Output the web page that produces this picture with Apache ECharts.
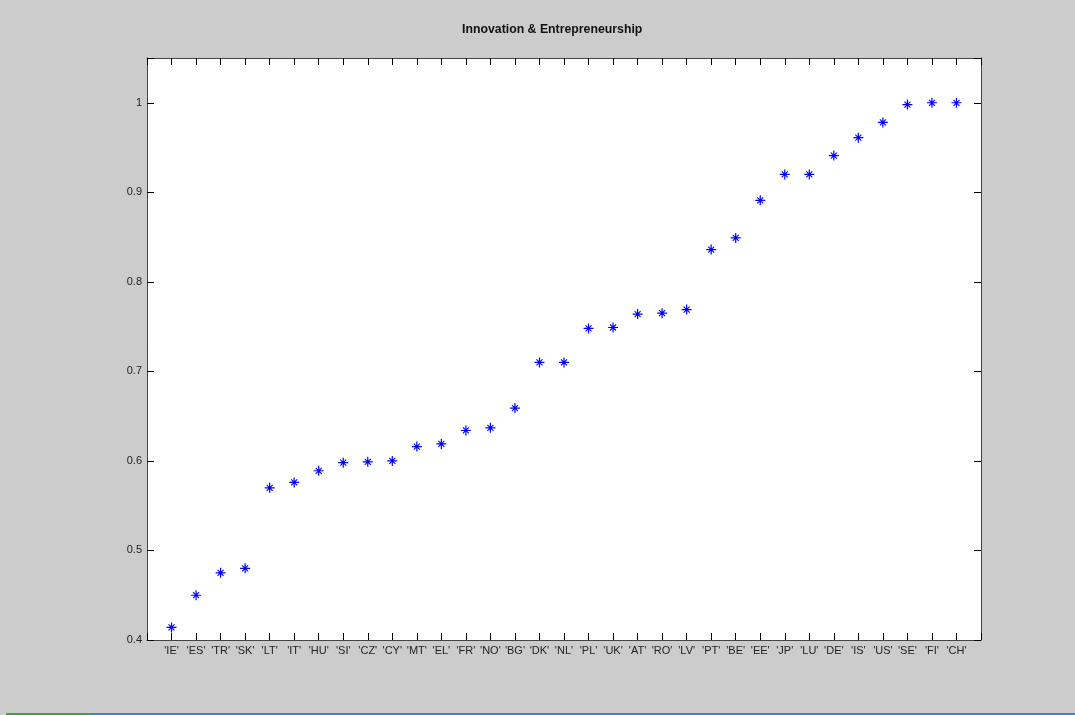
<!DOCTYPE html>
<html>
<head>
<meta charset="utf-8">
<script src="https://cdn.jsdelivr.net/npm/echarts@6/dist/echarts.min.js"></script>
<style>
  html, body { margin: 0; padding: 0; background: #cccccc; }
  #chart { width: 1075px; height: 715px; }
</style>
</head>
<body>
<div id="chart"></div>
<script>
// Country codes, ordered by score
const countries = ['IE','ES','TR','SK','LT','IT','HU','SI','CZ','CY','MT','EL','FR','NO','BG','DK','NL',
                   'PL','UK','AT','RO','LV','PT','BE','EE','JP','LU','DE','IS','US','SE','FI','CH'];
// Innovation & Entrepreneurship score per country
const scores = [0.414, 0.450, 0.475, 0.480, 0.570, 0.576, 0.589, 0.598, 0.599, 0.600, 0.616, 0.619, 0.634,
                0.637, 0.659, 0.710, 0.710, 0.748, 0.749, 0.764, 0.765, 0.769, 0.836, 0.849, 0.891,
                0.920, 0.920, 0.941, 0.961, 0.978, 0.998, 1.000, 1.000];
const yTicks = [0.4, 0.5, 0.6, 0.7, 0.8, 0.9, 1];

const points = scores.map((v, i) => [i + 1, v]);

// Asterisk marker: a plus with two shorter diagonals
const asterisk = 'path://M4.4,0 H5.6 V10 H4.4 Z M0,4.4 H10 V5.6 H0 Z ' +
  'M2.39,1.61 L8.39,7.61 L7.61,8.39 L1.61,2.39 Z ' +
  'M8.39,2.39 L2.39,8.39 L1.61,7.61 L7.61,1.61 Z';

const font = '"Liberation Sans", Arial, Helvetica, sans-serif';
const frame = { show: true, onZero: false, lineStyle: { color: '#444', width: 1 } };
const tick = { show: true, inside: true, length: 7, lineStyle: { color: '#000', width: 1 } };

const chart = echarts.init(document.getElementById('chart'), null, { renderer: 'canvas' });
chart.setOption({
  backgroundColor: '#cccccc',
  animation: false,
  title: {
    text: 'Innovation & Entrepreneurship',
    left: 457, top: 19,
    textStyle: { fontFamily: font, fontSize: 12.3, fontWeight: 'bold', color: '#111' }
  },
  grid: { left: 147, right: 94, top: 58, bottom: 75, show: true, backgroundColor: '#ffffff', borderWidth: 0 },
  xAxis: [{
    type: 'value', position: 'bottom', min: 0, max: countries.length + 1, interval: 1,
    axisLine: frame, axisTick: tick, splitLine: { show: false },
    axisLabel: {
      fontFamily: font, fontSize: 11, color: '#222', margin: 5,
      formatter: v => (v >= 1 && v <= countries.length) ? "'" + countries[v - 1] + "'" : ''
    }
  }, {
    type: 'value', position: 'top', min: 0, max: countries.length + 1, interval: 1,
    axisLine: frame, axisTick: tick, splitLine: { show: false }, axisLabel: { show: false }
  }],
  yAxis: [{
    type: 'value', position: 'left', min: 0.4, max: 1.05, interval: 0.1,
    axisLine: frame, axisTick: tick, splitLine: { show: false },
    axisLabel: {
      fontFamily: font, fontSize: 11, color: '#222', margin: 5,
      formatter: v => {
        const t = yTicks.find(y => Math.abs(y - v) < 1e-9);
        return t === undefined ? '' : String(t);
      }
    }
  }, {
    type: 'value', position: 'right', min: 0.4, max: 1.05, interval: 0.1,
    axisLine: frame, axisTick: tick, splitLine: { show: false }, axisLabel: { show: false }
  }],
  series: [{
    type: 'scatter',
    data: points,
    symbol: asterisk,
    symbolSize: 10,
    itemStyle: { color: '#0000ff', opacity: 1 },
    xAxisIndex: 0, yAxisIndex: 0
  }],
  graphic: [
    { type: 'rect', shape: { x: 6, y: 713, width: 85, height: 2 }, style: { fill: '#4a9a4a' }, silent: true },
    { type: 'rect', shape: { x: 91, y: 713, width: 984, height: 2 }, style: { fill: '#3b82d6' }, silent: true }
  ]
});
</script>
</body>
</html>
